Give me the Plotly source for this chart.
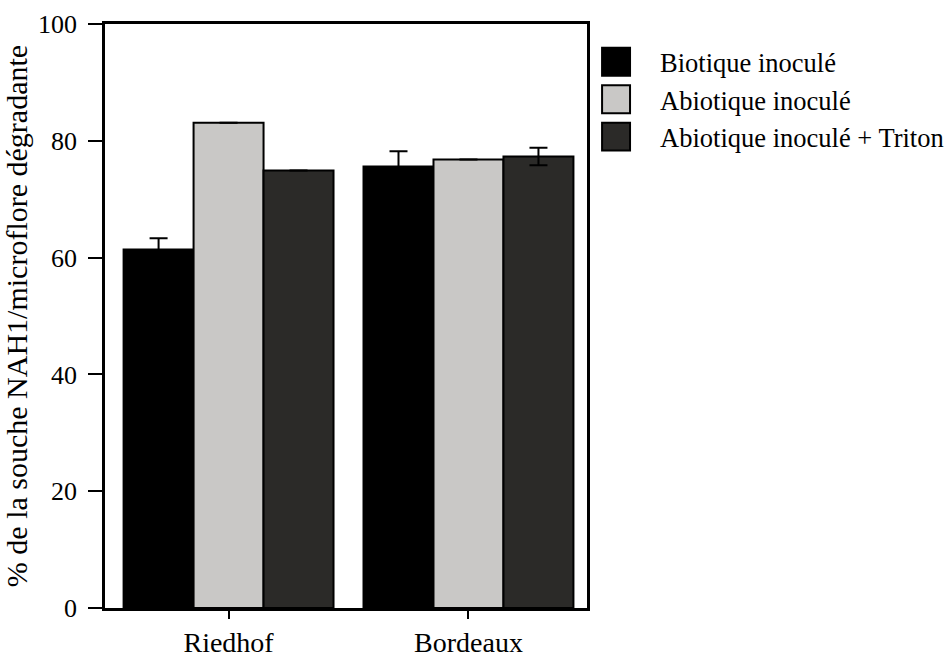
import plotly.graph_objects as go

categories = ["Riedhof", "Bordeaux"]
series_names = ["Biotique inoculé", "Abiotique inoculé", "Abiotique inoculé + Triton"]
biotique = [61.4, 75.6]
abiotique = [83.1, 76.8]
triton = [74.9, 77.3]
biotique_err = [1.9, 2.6]
abiotique_err = [0, 0]
triton_err = [0, 1.5]
y_ticks = [0, 20, 40, 60, 80, 100]

colors = ["#000000", "#c9c8c6", "#2b2a28"]
values = [biotique, abiotique, triton]
errors = [biotique_err, abiotique_err, triton_err]

font_family = "Liberation Serif, Times New Roman, serif"

fig = go.Figure()
for name, vals, errs, col in zip(series_names, values, errors, colors):
    fig.add_trace(go.Bar(
        x=list(range(len(categories))), y=vals, name=name,
        marker=dict(color=col, line=dict(color="#000000", width=2)),
        error_y=dict(type="data", array=errs, visible=True, color="#000000",
                     thickness=2, width=9),
    ))

fig.update_layout(
    width=951, height=657,
    margin=dict(l=105, r=364, t=24, b=49, autoexpand=False),
    paper_bgcolor="white", plot_bgcolor="white",
    barmode="group", bargap=0.125, bargroupgap=0,
    font=dict(family=font_family, color="#000000", size=26),
    showlegend=True,
    legend=dict(x=0.969, y=0.976, xanchor="left", yanchor="top",
                font=dict(size=26.5, family=font_family),
                itemwidth=78, tracegroupgap=0, bgcolor="rgba(0,0,0,0)"),
    xaxis=dict(
        tickmode="array", tickvals=list(range(len(categories))), ticktext=categories,
        range=[-0.515, 1.494],
        showline=True, linecolor="#000000", linewidth=2.5, mirror=True,
        ticks="outside", ticklen=8, tickwidth=2, tickcolor="#000000",
        tickfont=dict(size=28, family=font_family),
        showgrid=False, zeroline=False,
    ),
    yaxis=dict(
        range=[0, 100], tickvals=y_ticks,
        showline=True, linecolor="#000000", linewidth=2.5, mirror=True,
        ticks="outside", ticklen=14, tickwidth=2, tickcolor="#000000",
        tickfont=dict(size=26, family=font_family), ticklabelstandoff=6,
        showgrid=False, zeroline=False,
        title=dict(text="% de la souche NAH1/microflore dégradante",
                   font=dict(size=30, family=font_family), standoff=6),
    ),
)

legend_js = """
document.querySelectorAll('.legend .legendpoints path').forEach(function(p){
  var t = p.getAttribute('transform') || '';
  p.setAttribute('transform', t + ' scale(2.33)');
  p.style.vectorEffect = 'non-scaling-stroke';
  p.style.strokeWidth = '2px';
});
"""

fig.write_html("out.html", post_script=legend_js)
